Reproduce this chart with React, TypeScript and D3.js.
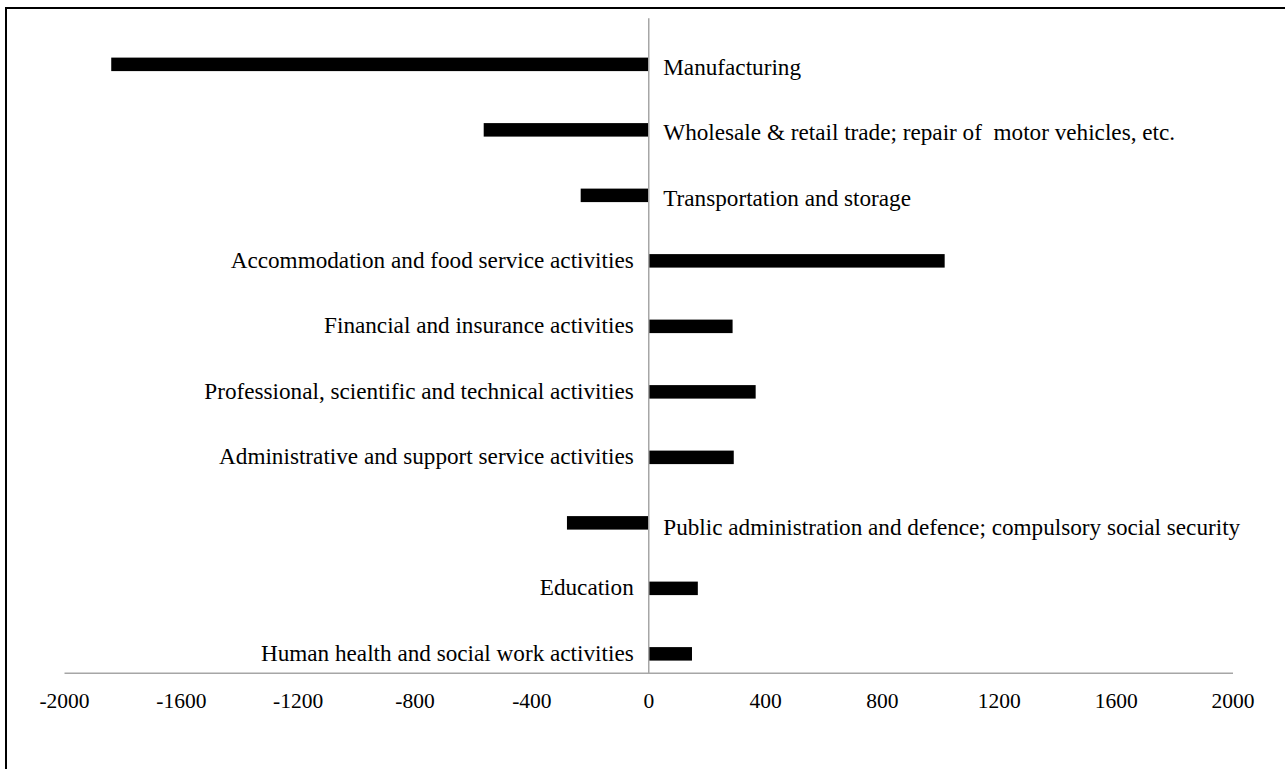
import React from 'react';
import * as d3 from 'd3';

// sectors, top to bottom
const categories = [
  'Manufacturing',
  'Wholesale & retail trade; repair of  motor vehicles, etc.',
  'Transportation and storage',
  'Accommodation and food service activities',
  'Financial and insurance activities',
  'Professional, scientific and technical activities',
  'Administrative and support service activities',
  'Public administration and defence; compulsory social security',
  'Education',
  'Human health and social work activities',
];

// change per sector
const values = [-1840, -565, -233, 1013, 287, 366, 291, -280, 168, 148];

const tickValues = [-2000, -1600, -1200, -800, -400, 0, 400, 800, 1200, 1600, 2000];

const W = 1285;
const H = 769;
const FONT = '"Liberation Serif", "Times New Roman", serif';

const App = () => {
  const x = d3.scaleLinear().domain([-2000, 2000]).range([64.5, 1233]);
  const y = d3.scaleBand().domain(categories).range([18.3, 673.3]);
  const bw = y.bandwidth();
  const barH = 13.5;
  const x0 = x(0);
  const axisY = 673.3;

  return (
    <svg
      width={W}
      height={H}
      style={{ position: 'absolute', left: 0, top: 0, background: '#fff' }}
      fontFamily={FONT}
    >
      <rect x={6} y={8} width={W + 20} height={H + 20} fill="#fff" stroke="#000" strokeWidth={2} />

      {/* bars */}
      {categories.map((c, i) => {
        const v = values[i];
        const top = (y(c) as number) + bw * 0.6;
        return (
          <rect
            key={'b' + i}
            x={Math.min(x(v), x0)}
            y={top}
            width={Math.abs(x(v) - x0)}
            height={barH}
            fill="#000"
          />
        );
      })}

      {/* category labels next to the zero line */}
      {categories.map((c, i) => {
        const v = values[i];
        const mid = (y(c) as number) + bw * 0.6 + barH / 2;
        const neg = v < 0;
        let dy = neg ? 10.5 : 7;
        if (c.startsWith('Public')) dy = 12.5;
        return (
          <text
            key={'l' + i}
            x={neg ? x0 + 14.5 : x0 - 15}
            y={mid + dy}
            textAnchor={neg ? 'start' : 'end'}
            fontSize={23.2}
            fill="#000"
            style={{ whiteSpace: 'pre' }}
          >
            {c}
          </text>
        );
      })}

      {/* vertical axis at zero */}
      <line x1={x0} x2={x0} y1={18.3} y2={axisY} stroke="#a6a6a6" strokeWidth={1.5} />
      {/* horizontal axis */}
      <line x1={x.range()[0]} x2={x.range()[1]} y1={axisY} y2={axisY} stroke="#a6a6a6" strokeWidth={1.5} />

      {tickValues.map((t) => (
        <text
          key={'t' + t}
          x={x(t)}
          y={707.5}
          textAnchor="middle"
          fontSize={21.5}
          fill="#000"
        >
          {t}
        </text>
      ))}
    </svg>
  );
};

export default App;
